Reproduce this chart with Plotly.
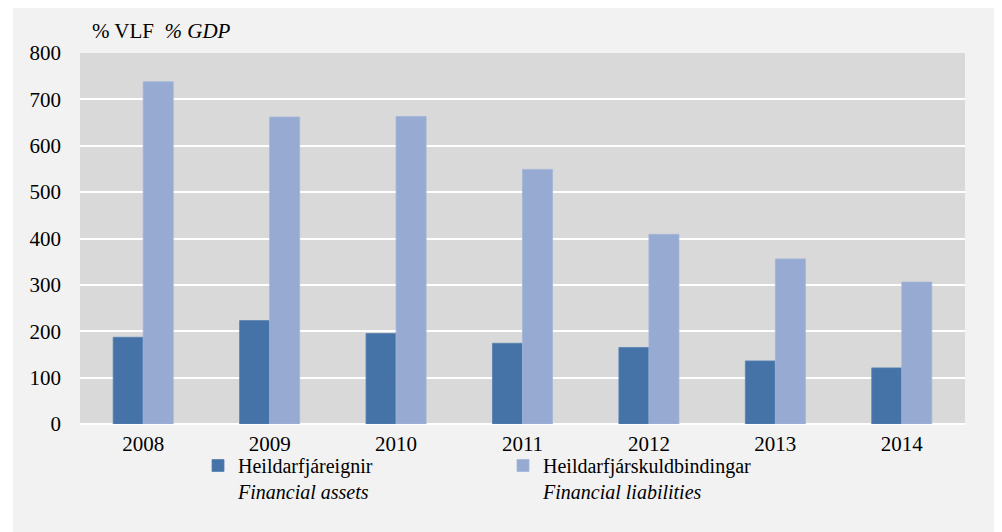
import plotly.graph_objects as go

years = ["2008", "2009", "2010", "2011", "2012", "2013", "2014"]
assets = [187, 223, 195, 174, 165, 136, 121]
liabilities = [738, 662, 663, 549, 409, 356, 306]
y_ticks = [0, 100, 200, 300, 400, 500, 600, 700, 800]

name_assets = "Heildarfjáreignir<br><i>Financial assets</i>"
name_liab = "Heildarfjárskuldbindingar<br><i>Financial liabilities</i>"

FONT = "Liberation Serif"

fig = go.Figure()
fig.add_trace(go.Bar(x=years, y=assets, name=name_assets,
                     marker=dict(color="#4573A7", line=dict(width=0.8, color="#5580b3"))))
fig.add_trace(go.Bar(x=years, y=liabilities, name=name_liab,
                     marker=dict(color="#96AAD2", line=dict(width=0.8, color="#a3b5d8"))))

OFF = 8  # page body margin
W, H = 1002 - OFF, 532 - OFF
ml, mr, mt, mb = 80 - OFF, 37, 53 - OFF, 108
pw = W - ml - mr
ph = H - mt - mb


def px_x(sx):
    return (sx - OFF - ml) / pw


def px_y(sy):
    return (H - mb - (sy - OFF)) / ph


fig.update_layout(
    width=W, height=H,
    margin=dict(l=ml, r=mr, t=mt, b=mb, pad=0),
    paper_bgcolor="#f2f2f2",
    plot_bgcolor="#d9d9d9",
    font=dict(family=FONT, size=21, color="#000000"),
    barmode="group",
    bargap=0.525,
    bargroupgap=0,
    showlegend=True,
    legend=dict(
        orientation="h",
        x=px_x(198), xanchor="left",
        y=px_y(446), yanchor="top",
        entrywidth=260, entrywidthmode="pixels",
        valign="top",
        bgcolor="rgba(0,0,0,0)",
        font=dict(family=FONT, size=20),
        traceorder="normal",
        itemclick=False,
    ),
    xaxis=dict(
        type="category",
        showgrid=False,
        showline=False,
        ticks="",
        ticklabelstandoff=5,
        tickfont=dict(family=FONT, size=21),
    ),
    yaxis=dict(
        range=[0, 800],
        tickvals=y_ticks,
        ticktext=[str(v) for v in y_ticks],
        showgrid=True,
        gridcolor="#ffffff",
        gridwidth=2,
        zeroline=True,
        zerolinecolor="#ffffff",
        zerolinewidth=2,
        showline=False,
        ticks="",
        ticklabelstandoff=18,
        tickfont=dict(family=FONT, size=21),
        fixedrange=True,
    ),
    annotations=[
        dict(
            text="% VLF  <i>% GDP</i>",
            xref="paper", yref="paper",
            x=px_x(90), xanchor="left",
            y=1, yanchor="bottom", yshift=8,
            showarrow=False,
            font=dict(family=FONT, size=21, color="#000000"),
        )
    ],
    shapes=[
        dict(type="rect", xref="paper", yref="paper",
             x0=px_x(OFF), x1=px_x(13), y0=px_y(532), y1=px_y(OFF),
             fillcolor="#ffffff", line=dict(width=0), layer="below"),
    ],
)

fig.write_html("out.html")
